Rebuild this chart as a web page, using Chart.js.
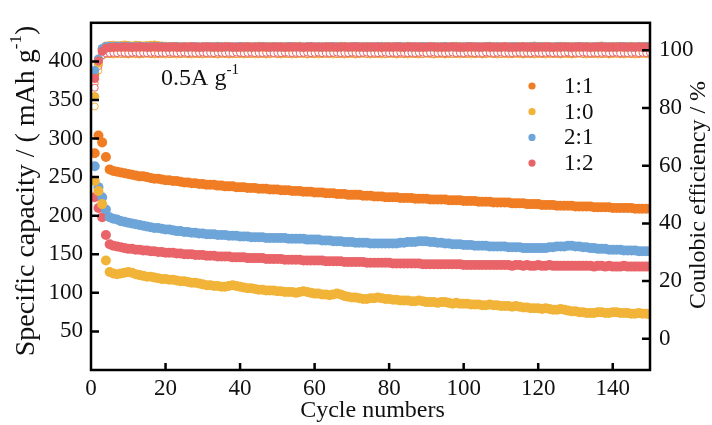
<!DOCTYPE html>
<html>
<head>
<meta charset="utf-8">
<script src="https://cdn.jsdelivr.net/npm/chart.js@4.4.1/dist/chart.umd.min.js"></script>
<style>
  html, body { margin: 0; padding: 0; background: #fff; }
  #wrap { width: 712px; height: 425px; }
</style>
</head>
<body>
<div id="wrap"><canvas id="myChart" width="712" height="425"></canvas></div>
<script>
// cycle index and axis ticks
const cycles = Array.from({length: 150}, (_, i) => i + 1);
const xTicks = [0, 20, 40, 60, 80, 100, 120, 140];
const capTicks = [50, 100, 150, 200, 250, 300, 350, 400];
const ceTicks = [0, 20, 40, 60, 80, 100];

const seriesNames = ['1:1', '1:0', '2:1', '1:2'];
const seriesColors = ['#F07D24', '#F1B438', '#6EA5D9', '#E96468'];

// specific capacity (mAh g-1)
const cap11 = [
  281, 304, 295, 276, 260, 258, 257, 256, 255, 254,
  253, 252, 251, 251, 250, 249, 248, 248, 247, 246,
  246, 245, 245, 244, 243, 243, 242, 242, 241, 241,
  240, 240, 240, 239, 239, 238, 238, 238, 237, 237,
  237, 236, 236, 236, 235, 235, 235, 234, 234, 234,
  233, 233, 233, 232, 232, 232, 231, 231, 231, 230,
  230, 230, 229, 229, 229, 228, 228, 228, 227, 227,
  227, 227, 226, 226, 226, 225, 225, 225, 224, 224,
  224, 224, 223, 223, 223, 223, 222, 222, 222, 222,
  221, 221, 221, 221, 221, 220, 220, 220, 220, 219,
  219, 219, 219, 218, 218, 218, 218, 217, 217, 217,
  217, 217, 216, 216, 216, 216, 215, 215, 215, 215,
  214, 214, 214, 214, 213, 213, 213, 213, 213, 212,
  212, 212, 212, 212, 211, 211, 211, 211, 211, 210,
  210, 210, 210, 210, 210, 209, 209, 209, 209, 209
];
const cap10 = [
  245, 232, 215, 142, 127, 125, 124, 125, 126, 127,
  126, 124, 123, 122, 121, 121, 120, 119, 118, 118,
  117, 117, 116, 115, 115, 114, 113, 113, 112, 111,
  110, 110, 109, 109, 108, 108, 109, 110, 109, 108,
  107, 106, 106, 105, 104, 104, 103, 103, 103, 102,
  102, 101, 101, 101, 100, 101, 102, 101, 100, 99,
  99, 98, 98, 97, 98, 99, 98, 96, 95, 94,
  94, 93, 92, 92, 93, 93, 94, 93, 92, 92,
  91, 91, 90, 90, 90, 89, 89, 90, 89, 88,
  88, 88, 87, 88, 88, 87, 86, 87, 86, 86,
  86, 85, 85, 85, 84, 84, 85, 84, 84, 83,
  83, 83, 82, 83, 82, 81, 81, 80, 80, 80,
  79, 80, 79, 78, 78, 79, 78, 77, 76, 76,
  75, 75, 74, 74, 74, 75, 75, 74, 74, 75,
  75, 74, 74, 74, 73, 73, 74, 73, 73, 72
];
const cap21 = [
  264, 237, 224, 208, 198, 196, 195, 193, 192, 191,
  190, 189, 188, 187, 186, 185, 184, 184, 183, 182,
  182, 181, 180, 180, 179, 179, 178, 178, 177, 177,
  176, 176, 176, 175, 175, 175, 174, 174, 174, 173,
  173, 173, 172, 172, 172, 172, 171, 171, 171, 171,
  171, 171, 170, 170, 170, 170, 170, 169, 169, 169,
  169, 168, 168, 168, 167, 167, 167, 166, 166, 166,
  165, 165, 165, 165, 164, 164, 164, 164, 164, 164,
  164, 164, 165, 165, 166, 166, 166, 167, 167, 167,
  166, 166, 165, 165, 164, 164, 163, 163, 163, 162,
  162, 162, 161, 161, 161, 161, 160, 160, 160, 160,
  160, 159, 159, 159, 159, 158, 158, 158, 158, 158,
  158, 158, 159, 159, 160, 160, 160, 161, 161, 160,
  160, 159, 159, 158, 158, 157, 157, 157, 156, 156,
  156, 156, 155, 155, 155, 155, 154, 154, 154, 154
];
const cap12 = [
  224, 210, 198, 175, 163, 161, 160, 159, 158, 157,
  157, 156, 156, 155, 155, 154, 154, 153, 153, 152,
  152, 152, 151, 151, 150, 150, 150, 149, 149, 149,
  148, 148, 148, 147, 147, 147, 147, 146, 146, 146,
  146, 145, 145, 145, 145, 145, 144, 144, 144, 144,
  144, 143, 143, 143, 143, 143, 142, 142, 142, 142,
  142, 142, 141, 141, 141, 141, 141, 140, 140, 140,
  140, 140, 140, 139, 139, 139, 139, 139, 139, 139,
  138, 138, 138, 138, 138, 138, 138, 138, 137, 137,
  137, 137, 137, 137, 137, 137, 137, 137, 137, 136,
  136, 136, 136, 136, 136, 136, 136, 136, 136, 136,
  136, 136, 135, 136, 136, 135, 136, 135, 135, 136,
  135, 135, 136, 135, 135, 135, 135, 135, 135, 135,
  135, 135, 135, 135, 134, 135, 135, 134, 135, 134,
  134, 134, 135, 134, 134, 134, 134, 134, 134, 134
];

// coulombic efficiency (%), filled markers
const ce12 = [
  90.2, 96.3, 99.6, 100.7, 100.9, 101.0, 101.1, 101.0, 101.2, 101.1,
  101.0, 101.1, 101.2, 101.1, 101.0, 101.1, 101.2, 101.1, 101.1, 101.0,
  101.1, 101.2, 101.1, 101.0, 101.1, 101.1, 101.2, 101.1, 101.0, 101.1,
  101.2, 101.1, 101.1, 101.0, 101.1, 101.2, 101.1, 101.1, 101.0, 101.1,
  101.1, 101.2, 101.0, 101.1, 101.1, 101.2, 101.1, 101.0, 101.1, 101.2,
  101.1, 101.0, 101.1, 101.2, 101.1, 101.1, 101.0, 101.1, 101.2, 101.1,
  101.0, 101.1, 101.1, 101.2, 101.1, 101.0, 101.1, 101.2, 101.1, 101.1,
  101.2, 101.1, 101.0, 101.1, 101.1, 101.2, 101.1, 101.0, 101.1, 101.1,
  101.1, 101.2, 101.1, 101.0, 101.1, 101.2, 101.1, 101.1, 101.0, 101.1,
  101.2, 101.1, 101.1, 101.0, 101.1, 101.1, 101.2, 101.1, 101.0, 101.1,
  101.1, 101.2, 101.1, 101.0, 101.1, 101.2, 101.1, 101.1, 101.0, 101.1,
  101.2, 101.1, 101.0, 101.1, 101.1, 101.2, 101.1, 101.1, 101.0, 101.1,
  101.1, 101.2, 101.1, 101.0, 101.1, 101.1, 101.2, 101.1, 101.0, 101.1,
  101.2, 101.1, 101.1, 101.0, 101.1, 101.2, 101.1, 101.1, 101.0, 101.1,
  101.1, 101.2, 101.1, 101.1, 101.0, 101.1, 101.2, 101.1, 101.1, 101.2
];
const ce10 = [
  84.0, 95.5, 100.4, 101.5, 101.6, 101.7, 101.5, 101.6, 101.8, 101.6,
  101.5, 101.7, 101.6, 101.5, 101.6, 101.7, 101.8, 101.6, 101.5, 101.4,
  101.3, 101.2, 101.3, 101.2, 101.1, 101.2, 101.3, 101.2, 101.1, 101.2,
  101.3, 101.1, 101.2, 101.4, 101.2, 101.1, 101.3, 101.2, 101.0, 101.2,
  101.3, 101.2, 101.1, 101.2, 101.4, 101.2, 101.1, 101.3, 101.2, 101.1,
  101.2, 101.3, 101.1, 101.2, 101.2, 101.4, 101.1, 101.2, 101.3, 101.1,
  101.2, 101.1, 101.3, 101.2, 101.1, 101.2, 101.4, 101.2, 101.1, 101.3,
  101.2, 101.1, 101.2, 101.3, 101.2, 101.1, 101.2, 101.4, 101.3, 101.1,
  101.2, 101.3, 101.1, 101.2, 101.4, 101.2, 101.1, 101.3, 101.2, 101.1,
  101.3, 101.2, 101.1, 101.2, 101.3, 101.1, 101.2, 101.4, 101.2, 101.1,
  101.2, 101.3, 101.2, 101.1, 101.2, 101.3, 101.4, 101.2, 101.1, 101.2,
  101.3, 101.2, 101.1, 101.3, 101.2, 101.1, 101.2, 101.3, 101.5, 101.2,
  101.1, 101.2, 101.3, 101.2, 101.1, 101.4, 101.2, 101.1, 101.3, 101.2,
  101.1, 101.2, 101.3, 101.2, 101.1, 101.3, 101.5, 101.2, 101.1, 101.2,
  101.3, 101.2, 101.1, 101.2, 101.4, 101.2, 101.1, 101.3, 101.2, 101.3
];
const ce21 = [
  93.0, 97.0, 100.6, 101.3, 101.4, 101.3, 101.5, 101.4, 101.3, 101.4,
  101.3, 101.2, 101.4, 101.3, 101.2, 101.3, 101.4, 101.2, 101.3, 101.2,
  101.1, 101.2, 101.3, 101.1, 101.2, 101.1, 101.2, 101.3, 101.1, 101.2,
  101.1, 101.2, 101.1, 101.3, 101.2, 101.1, 101.2, 101.1, 101.2, 101.3,
  101.1, 101.2, 101.1, 101.2, 101.1, 101.3, 101.2, 101.1, 101.2, 101.1,
  101.2, 101.1, 101.3, 101.2, 101.1, 101.2, 101.1, 101.2, 101.3, 101.1,
  101.2, 101.1, 101.2, 101.1, 101.3, 101.2, 101.1, 101.2, 101.1, 101.2,
  101.3, 101.1, 101.2, 101.1, 101.2, 101.1, 101.3, 101.2, 101.1, 101.2,
  101.1, 101.2, 101.3, 101.1, 101.2, 101.1, 101.2, 101.1, 101.3, 101.2,
  101.1, 101.2, 101.1, 101.2, 101.3, 101.1, 101.2, 101.1, 101.2, 101.1,
  101.3, 101.2, 101.1, 101.2, 101.1, 101.2, 101.3, 101.1, 101.2, 101.1,
  101.2, 101.1, 101.3, 101.2, 101.1, 101.2, 101.1, 101.2, 101.3, 101.1,
  101.2, 101.1, 101.2, 101.1, 101.3, 101.2, 101.1, 101.2, 101.1, 101.2,
  101.3, 101.1, 101.2, 101.1, 101.2, 101.1, 101.3, 101.2, 101.1, 101.2,
  101.1, 101.2, 101.3, 101.1, 101.2, 101.1, 101.2, 101.1, 101.3, 101.2
];
const ce11 = [
  91.5, 96.8, 100.1, 101.0, 101.1, 101.0, 101.1, 101.2, 101.0, 101.1,
  101.0, 101.1, 101.0, 101.2, 101.1, 101.0, 101.1, 101.0, 101.1, 101.2,
  101.0, 101.1, 101.0, 101.1, 101.2, 101.0, 101.1, 101.0, 101.1, 101.0,
  101.2, 101.1, 101.0, 101.1, 101.0, 101.1, 101.2, 101.0, 101.1, 101.0,
  101.1, 101.0, 101.2, 101.1, 101.0, 101.1, 101.0, 101.1, 101.2, 101.0,
  101.1, 101.0, 101.1, 101.0, 101.2, 101.1, 101.0, 101.1, 101.0, 101.1,
  101.2, 101.0, 101.1, 101.0, 101.1, 101.0, 101.2, 101.1, 101.0, 101.1,
  101.0, 101.1, 101.2, 101.0, 101.1, 101.0, 101.1, 101.0, 101.2, 101.1,
  101.0, 101.1, 101.0, 101.1, 101.2, 101.0, 101.1, 101.0, 101.1, 101.0,
  101.2, 101.1, 101.0, 101.1, 101.0, 101.1, 101.2, 101.0, 101.1, 101.0,
  101.1, 101.0, 101.2, 101.1, 101.0, 101.1, 101.0, 101.1, 101.2, 101.0,
  101.1, 101.0, 101.1, 101.0, 101.2, 101.1, 101.0, 101.1, 101.0, 101.1,
  101.2, 101.0, 101.1, 101.0, 101.1, 101.0, 101.2, 101.1, 101.0, 101.1,
  101.0, 101.1, 101.2, 101.0, 101.1, 101.0, 101.1, 101.0, 101.2, 101.1,
  101.0, 101.1, 101.0, 101.1, 101.2, 101.0, 101.1, 101.0, 101.1, 101.0
];

// coulombic efficiency (%), open markers
const ceOpen12 = [
  87.0, 94.5, 98.2, 98.9, 99.0, 99.1, 99.0, 99.2, 99.1, 99.0,
  99.1, 99.2, 99.0, 99.1, 99.0, 99.1, 99.2, 99.0, 99.1, 99.0,
  99.2, 99.1, 99.0, 99.1, 99.2, 99.0, 99.1, 99.0, 99.1, 99.2,
  99.0, 99.1, 99.0, 99.2, 99.1, 99.0, 99.1, 99.0, 99.2, 99.1,
  99.0, 99.1, 99.2, 99.0, 99.1, 99.0, 99.1, 99.2, 99.0, 99.1,
  99.0, 99.2, 99.1, 99.0, 99.1, 99.0, 99.1, 99.2, 99.0, 99.1,
  99.2, 99.0, 99.1, 99.0, 99.1, 99.2, 99.0, 99.1, 99.0, 99.2,
  99.1, 99.0, 99.1, 99.2, 99.0, 99.1, 99.0, 99.1, 99.2, 99.0,
  99.1, 99.0, 99.2, 99.1, 99.0, 99.1, 99.0, 99.1, 99.2, 99.0,
  99.1, 99.2, 99.0, 99.1, 99.0, 99.1, 99.2, 99.0, 99.1, 99.0,
  99.2, 99.1, 99.0, 99.1, 99.0, 99.2, 99.1, 99.0, 99.1, 99.2,
  99.0, 99.1, 99.0, 99.1, 99.2, 99.0, 99.1, 99.0, 99.2, 99.1,
  99.0, 99.1, 99.2, 99.0, 99.1, 99.0, 99.1, 99.2, 99.0, 99.1,
  99.0, 99.2, 99.1, 99.0, 99.1, 99.0, 99.1, 99.2, 99.0, 99.1,
  99.2, 99.0, 99.1, 99.0, 99.1, 99.2, 99.0, 99.1, 99.0, 99.1
];
const ceOpen11 = [
  88.5, 95.0, 98.5, 98.8, 98.7, 98.8, 98.9, 98.7, 98.8, 98.7,
  98.9, 98.8, 98.7, 98.8, 98.9, 98.7, 98.8, 98.7, 98.8, 98.9,
  98.7, 98.8, 98.9, 98.7, 98.8, 98.7, 98.8, 98.9, 98.7, 98.8,
  98.9, 98.7, 98.8, 98.7, 98.8, 98.9, 98.7, 98.8, 98.7, 98.9,
  98.8, 98.7, 98.8, 98.9, 98.7, 98.8, 98.7, 98.8, 98.9, 98.7,
  98.8, 98.9, 98.7, 98.8, 98.7, 98.8, 98.9, 98.7, 98.8, 98.7,
  98.9, 98.8, 98.7, 98.8, 98.9, 98.7, 98.8, 98.7, 98.8, 98.9,
  98.7, 98.8, 98.9, 98.7, 98.8, 98.7, 98.8, 98.9, 98.7, 98.8,
  98.9, 98.7, 98.8, 98.7, 98.8, 98.9, 98.7, 98.8, 98.7, 98.9,
  98.8, 98.7, 98.8, 98.9, 98.7, 98.8, 98.7, 98.8, 98.9, 98.7,
  98.8, 98.9, 98.7, 98.8, 98.7, 98.8, 98.9, 98.7, 98.8, 98.7,
  98.9, 98.8, 98.7, 98.8, 98.9, 98.7, 98.8, 98.7, 98.8, 98.9,
  98.7, 98.8, 98.9, 98.7, 98.8, 98.7, 98.8, 98.9, 98.7, 98.8,
  98.9, 98.7, 98.8, 98.7, 98.8, 98.9, 98.7, 98.8, 98.7, 98.9,
  98.8, 98.7, 98.8, 98.9, 98.7, 98.8, 98.7, 98.8, 98.9, 98.7
];
const ceOpen10 = [
  80.5, 93.0, 98.0, 98.6, 98.7, 98.5, 98.6, 98.8, 98.6, 98.5,
  98.7, 98.6, 98.5, 98.6, 98.8, 98.6, 98.5, 98.7, 98.6, 98.5,
  98.6, 98.7, 98.5, 98.6, 98.8, 98.6, 98.5, 98.6, 98.7, 98.5,
  98.6, 98.8, 98.6, 98.5, 98.7, 98.6, 98.5, 98.6, 98.8, 98.6,
  98.5, 98.7, 98.6, 98.5, 98.6, 98.7, 98.5, 98.6, 98.8, 98.6,
  98.5, 98.6, 98.7, 98.5, 98.6, 98.8, 98.6, 98.5, 98.7, 98.6,
  98.5, 98.6, 98.8, 98.6, 98.5, 98.7, 98.6, 98.5, 98.6, 98.7,
  98.5, 98.6, 98.8, 98.6, 98.5, 98.7, 98.6, 98.5, 98.6, 98.8,
  98.6, 98.5, 98.7, 98.6, 98.5, 98.6, 98.7, 98.5, 98.6, 98.8,
  98.6, 98.5, 98.7, 98.6, 98.5, 98.6, 98.8, 98.6, 98.5, 98.7,
  98.6, 98.5, 98.6, 98.7, 98.5, 98.6, 98.8, 98.6, 98.5, 98.7,
  98.6, 98.5, 98.6, 98.8, 98.6, 98.5, 98.7, 98.6, 98.5, 98.6,
  98.7, 98.5, 98.6, 98.8, 98.6, 98.5, 98.7, 98.6, 98.5, 98.6,
  98.8, 98.6, 98.5, 98.7, 98.6, 98.5, 98.6, 98.7, 98.5, 98.6,
  98.8, 98.6, 98.5, 98.7, 98.6, 98.5, 98.6, 98.8, 98.6, 98.5
];

const serif = '"Liberation Serif", "Times New Roman", serif';
const ink = '#111';

const pts = vals => cycles.map((c, i) => ({x: c, y: vals[i]}));

function filled(label, vals, color, axis, order, r) {
  return {
    label, data: pts(vals), yAxisID: axis, order,
    showLine: false, pointRadius: r, pointBorderWidth: 0,
    backgroundColor: color, borderColor: color
  };
}

function open(label, vals, color, order) {
  return {
    label, data: pts(vals), yAxisID: 'y2', order,
    showLine: false, pointRadius: 3.5, pointBorderWidth: 1,
    backgroundColor: '#fff', borderColor: color
  };
}

const capData = [cap11, cap10, cap21, cap12];

const datasets = [
  filled('1:2 CE', ce12, seriesColors[3], 'y2', 1, 4.5),
  filled('2:1 CE', ce21, seriesColors[2], 'y2', 2, 4.5),
  filled('1:0 CE', ce10, seriesColors[1], 'y2', 3, 4.5),
  filled('1:1 CE', ce11, seriesColors[0], 'y2', 4, 4.5),
  open('1:2 CE open', ceOpen12, seriesColors[3], 5),
  open('1:1 CE open', ceOpen11, seriesColors[0], 6),
  open('1:0 CE open', ceOpen10, seriesColors[1], 7)
];
seriesNames.forEach((n, i) => datasets.push(filled(n, capData[i], seriesColors[i], 'y', 0, 5)));

// text with a raised "-1" piece, drawn centred on (cx, cy)
function supText(ctx, before, sup, after, cx, cy, size) {
  const small = Math.round(size * 0.62);
  ctx.font = size + 'px ' + serif;
  const w1 = ctx.measureText(before).width;
  const w3 = ctx.measureText(after).width;
  ctx.font = small + 'px ' + serif;
  const w2 = ctx.measureText(sup).width;
  let x = cx - (w1 + w2 + w3) / 2;
  ctx.textBaseline = 'middle';
  ctx.textAlign = 'left';
  ctx.font = size + 'px ' + serif;
  ctx.fillText(before, x, cy);
  x += w1;
  ctx.font = small + 'px ' + serif;
  ctx.fillText(sup, x, cy - size * 0.38);
  x += w2;
  ctx.font = size + 'px ' + serif;
  ctx.fillText(after, x, cy);
}

const frame = {
  id: 'frame',
  afterDraw(chart) {
    const {ctx, chartArea: {left, right, top, bottom}, scales} = chart;
    ctx.save();
    ctx.strokeStyle = '#000';
    ctx.lineWidth = 2.5;
    ctx.strokeRect(left, top, right - left, bottom - top);

    // inward tick marks
    ctx.beginPath();
    scales.x.ticks.forEach(t => {
      const px = scales.x.getPixelForValue(t.value);
      if (px > left + 2 && px < right - 2) { ctx.moveTo(px, bottom); ctx.lineTo(px, bottom - 7); }
    });
    scales.y.ticks.forEach(t => {
      const py = scales.y.getPixelForValue(t.value);
      ctx.moveTo(left, py); ctx.lineTo(left + 8, py);
    });
    scales.y2.ticks.forEach(t => {
      const py = scales.y2.getPixelForValue(t.value);
      ctx.moveTo(right, py); ctx.lineTo(right - 8, py);
    });
    ctx.stroke();

    ctx.fillStyle = ink;

    // axis titles
    ctx.font = '24px ' + serif;
    ctx.textAlign = 'center';
    ctx.textBaseline = 'middle';
    ctx.fillText('Cycle numbers', (left + right) / 2 + 2, 411);

    ctx.save();
    ctx.translate(27, 191);
    ctx.rotate(-Math.PI / 2);
    supText(ctx, 'Specific capacity / ( mAh g', '-1', ')', 0, 0, 28);
    ctx.restore();

    ctx.save();
    ctx.translate(699, 195);
    ctx.rotate(-Math.PI / 2);
    ctx.font = '24px ' + serif;
    ctx.textAlign = 'center';
    ctx.textBaseline = 'middle';
    ctx.fillText('Coulobic efficiency / %', 0, 0);
    ctx.restore();

    // current density note
    supText(ctx, '0.5A g', '-1', '', 200, 79, 24);

    // legend
    seriesNames.forEach((n, i) => {
      const y = 86 + i * 25.7;
      ctx.fillStyle = seriesColors[i];
      ctx.beginPath();
      ctx.arc(532, y, 3.6, 0, Math.PI * 2);
      ctx.fill();
      ctx.fillStyle = ink;
      ctx.font = '23px ' + serif;
      ctx.textAlign = 'left';
      ctx.textBaseline = 'middle';
      ctx.fillText(n, 564, y + 1);
    });
    ctx.restore();
  }
};

const tickFont = {family: serif, size: 23};

const config = {
  type: 'scatter',
  data: {datasets},
  options: {
    responsive: false,
    animation: false,
    layout: {padding: {top: 16, left: 0, right: 0, bottom: 0}},
    plugins: {legend: {display: false}, tooltip: {enabled: false}},
    scales: {
      x: {
        type: 'linear', min: 0, max: 150,
        grid: {display: false, drawTicks: false}, border: {display: false},
        ticks: {font: tickFont, color: ink, padding: 5, maxRotation: 0},
        afterBuildTicks: s => { s.ticks = xTicks.map(v => ({value: v})); },
        afterFit: s => { s.height = 55; }
      },
      y: {
        position: 'left', min: 0, max: 450,
        grid: {display: false, drawTicks: false}, border: {display: false},
        ticks: {font: tickFont, color: ink, padding: 8},
        afterBuildTicks: s => { s.ticks = capTicks.map(v => ({value: v})); },
        afterFit: s => { s.width = 91; }
      },
      y2: {
        position: 'right', min: -10.8, max: 109.5,
        grid: {display: false, drawTicks: false}, border: {display: false},
        ticks: {font: tickFont, color: ink, padding: 9},
        afterBuildTicks: s => { s.ticks = ceTicks.map(v => ({value: v})); },
        afterFit: s => { s.width = 62; }
      }
    }
  },
  plugins: [frame]
};

const myChart = new Chart(document.getElementById('myChart'), config);
</script>
</body>
</html>
